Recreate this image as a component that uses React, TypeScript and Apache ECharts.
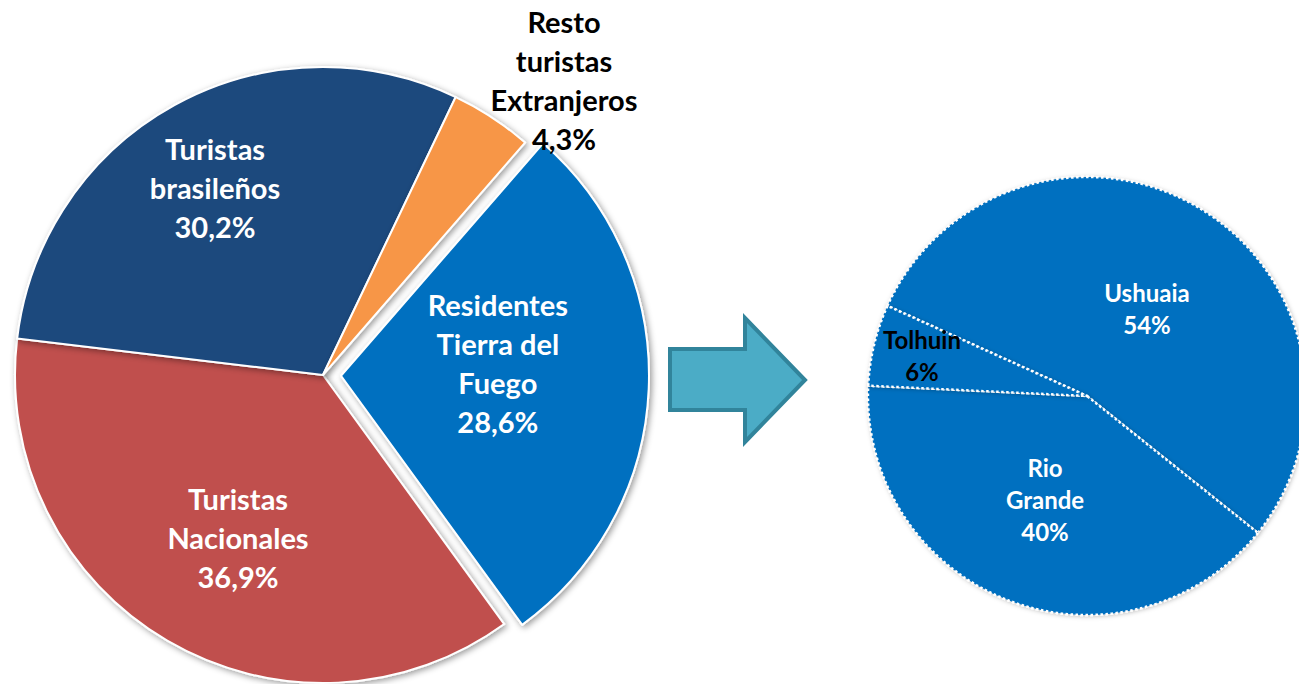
import React, { useEffect, useRef } from "react";
import * as echarts from "echarts";

const leftCategories = ["Residentes\nTierra del\nFuego", "Turistas\nNacionales", "Turistas\nbrasileños", "Resto\nturistas\nExtranjeros"];
const leftValues = [28.6, 36.9, 30.2, 4.3];
const leftColors = ["#0070C0", "#C0504D", "#1F497D", "#F79646"];
const leftLabelColors = ["#fff", "#fff", "#fff", "#000"];

const rightCategories = ["Ushuaia", "Rio\nGrande", "Tolhuin"];
const rightValues = [54, 40, 6];
const rightLabelColors = ["#fff", "#fff", "#000"];

// label anchor positions (layout only)
const leftLabelPos = [[495, 345], [238, 537], [215, 187], [564, 80]];
// extra blank trailing line lifts the exploded slice's label (layout only)
const leftLabelLift = [true, false, false, false];
const rightLabelPos = [[1147, 308], [1045, 499], [922, 355]];

const FONT = "Lato, 'Open Sans', sans-serif";

export default function App() {
  const ref = useRef<HTMLDivElement>(null);
  useEffect(() => {
    if (!ref.current) return;
    const chart = echarts.init(ref.current, null, { renderer: "svg" });
    chart.setOption({
      animation: false,
      backgroundColor: "#fff",
      graphic: [
        {
          type: "polygon",
          shape: {
            points: [[670, 349], [745, 349], [745, 318], [805, 380], [745, 442], [745, 410], [670, 410]],
          },
          style: { fill: "#4BACC6", stroke: "#31849B", lineWidth: 4, lineJoin: "miter" },
        },
      ],
      series: [
        {
          type: "pie",
          center: [323, 375],
          radius: 308,
          startAngle: 49,
          clockwise: true,
          selectedMode: "single",
          selectedOffset: 18,
          avoidLabelOverlap: false,
          emphasis: { disabled: true },
          itemStyle: {
            borderColor: "#fff",
            borderWidth: 2,
            shadowBlur: 6,
            shadowColor: "rgba(0,0,0,0.4)",
            shadowOffsetX: 2,
            shadowOffsetY: 2,
          },
          select: { itemStyle: { borderColor: "#fff", borderWidth: 2 } },
          label: {
            show: true,
            position: "inside",
            fontFamily: FONT,
            fontWeight: "bold",
            fontSize: 29,
            lineHeight: 39,
            align: "center",
            verticalAlign: "middle",
            formatter: (p: any) =>
              `${p.name}\n${Number(p.value).toFixed(1).replace(".", ",")}%` + (leftLabelLift[p.dataIndex] ? "\n " : ""),
          },
          labelLine: { show: false },
          labelLayout: (p: any) => ({
            x: leftLabelPos[p.dataIndex][0],
            y: leftLabelPos[p.dataIndex][1],
            align: "center",
            verticalAlign: "middle",
          }),
          data: leftValues.map((v, i) => ({
            value: v,
            name: leftCategories[i],
            selected: i === 0,
            itemStyle: { color: leftColors[i] },
            select: { itemStyle: { color: leftColors[i] } },
            label: { color: leftLabelColors[i] },
          })),
        },
        {
          type: "pie",
          center: [1087, 396],
          radius: 219,
          startAngle: 155.7,
          clockwise: true,
          avoidLabelOverlap: false,
          emphasis: { disabled: true },
          itemStyle: {
            color: "#0070C0",
            borderColor: "#fff",
            borderWidth: 2.5,
            borderType: [2.5, 2.5],
            shadowBlur: 4,
            shadowColor: "rgba(0,0,0,0.25)",
            shadowOffsetX: 1,
            shadowOffsetY: 1,
          },
          label: {
            show: true,
            position: "inside",
            fontFamily: FONT,
            fontWeight: "bold",
            fontSize: 24,
            lineHeight: 32,
            align: "center",
            verticalAlign: "middle",
            formatter: (p: any) => `${p.name}\n${p.value}%`,
          },
          labelLine: { show: false },
          labelLayout: (p: any) => ({
            x: rightLabelPos[p.dataIndex][0],
            y: rightLabelPos[p.dataIndex][1],
            align: "center",
            verticalAlign: "middle",
          }),
          data: rightValues.map((v, i) => ({
            value: v,
            name: rightCategories[i],
            label: { color: rightLabelColors[i] },
          })),
        },
      ],
    });
    return () => chart.dispose();
  }, []);
  return (
    <div
      ref={ref}
      style={{ position: "fixed", left: 0, top: 0, width: 1299, height: 684 }}
    />
  );
}
